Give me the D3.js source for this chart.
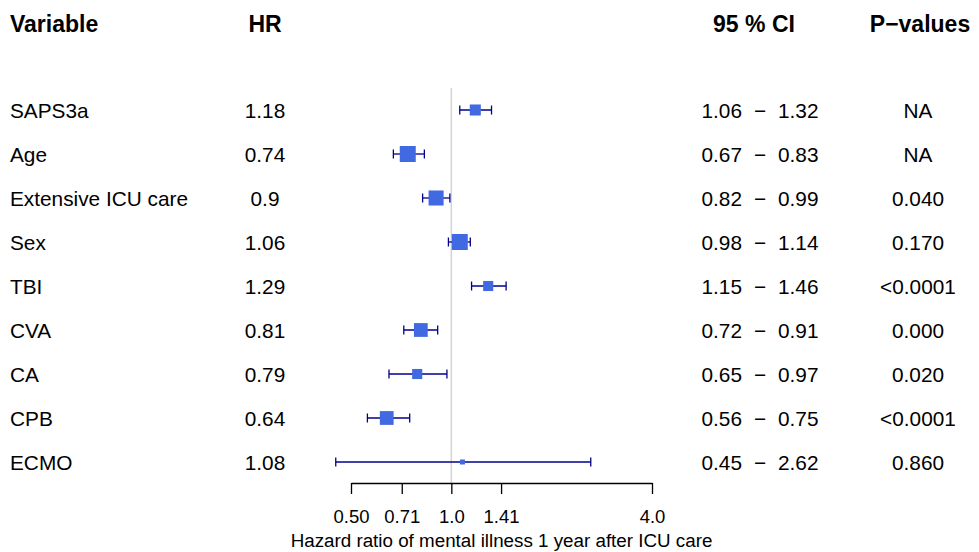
<!DOCTYPE html>
<html lang="en">
<head>
  <meta charset="UTF-8" />
  <title>Forest plot</title>
  <script src="https://d3js.org/d3.v7.min.js"></script>
  <style>
    body {
      margin: 0;
      background: #fff;
      font-family: "Liberation Sans", Arial, sans-serif;
    }
    svg {
      display: block;
    }
    .row-text {
      font-size: 20.8px;
      fill: #000;
    }
    .header {
      font-size: 23px;
      font-weight: bold;
    }
  </style>
</head>
<body>
  <svg id="chart" width="979" height="552"></svg>

  <script>
    // data
    const variables = ["SAPS3a", "Age", "Extensive ICU care", "Sex", "TBI", "CVA", "CA", "CPB", "ECMO"];
    const hr = [1.18, 0.74, 0.9, 1.06, 1.29, 0.81, 0.79, 0.64, 1.08];
    const ciLower = [1.06, 0.67, 0.82, 0.98, 1.15, 0.72, 0.65, 0.56, 0.45];
    const ciUpper = [1.32, 0.83, 0.99, 1.14, 1.46, 0.91, 0.97, 0.75, 2.62];
    const pValues = ["NA", "NA", "0.040", "0.170", "<0.0001", "0.000", "0.020", "<0.0001", "0.860"];
    const boxWeight = [0.69, 1.0, 0.94, 1.0, 0.63, 0.86, 0.63, 0.86, 0.31];
    const hrLabels = ["1.18", "0.74", "0.9", "1.06", "1.29", "0.81", "0.79", "0.64", "1.08"];
    const ciLabelsLow = ["1.06", "0.67", "0.82", "0.98", "1.15", "0.72", "0.65", "0.56", "0.45"];
    const ciLabelsHigh = ["1.32", "0.83", "0.99", "1.14", "1.46", "0.91", "0.97", "0.75", "2.62"];
    const tickValues = [0.5, 0.71, 1.0, 1.41, 4.0];
    const tickLabels = ["0.50", "0.71", "1.0", "1.41", "4.0"];
    const headers = ["Variable", "HR", "95 % CI", "P\u2212values"];
    const xTitle = "Hazard ratio of mental illness 1 year after ICU care";

    const rows = variables.map((v, i) => ({
      name: v, hr: hr[i], lo: ciLower[i], hi: ciUpper[i], p: pValues[i],
      w: boxWeight[i], hrLabel: hrLabels[i], loLabel: ciLabelsLow[i], hiLabel: ciLabelsHigh[i]
    }));

    const svg = d3.select("#chart");

    const x = d3.scaleLog().base(2).domain([0.5, 4]).range([351, 652]);
    const y = d3.scalePoint().domain(variables).range([110, 462]);
    const boxSize = d3.scaleLinear().domain([0, 1]).range([0, 16]);

    const axisY = 483;
    const colHR = 265, colLo = 742, colDash = 760, colHi = 778, colP = 918;

    // headers
    const headerX = [10, colHR, 754, 920];
    const headerAnchor = ["start", "middle", "middle", "middle"];
    svg.selectAll(".header")
      .data(headers)
      .join("text")
      .attr("class", "header")
      .attr("x", (d, i) => headerX[i])
      .attr("y", 32)
      .attr("text-anchor", (d, i) => headerAnchor[i])
      .text(d => d);

    // reference line at HR = 1
    svg.append("line")
      .attr("x1", x(1)).attr("x2", x(1))
      .attr("y1", 88).attr("y2", axisY)
      .attr("stroke", "#d3d3d3")
      .attr("stroke-width", 1.5);

    // table text
    const textRow = svg.append("g")
      .selectAll("g")
      .data(rows)
      .join("g")
      .attr("class", "row-text")
      .attr("transform", d => `translate(0,${y(d.name)})`);

    textRow.append("text").attr("x", 10).attr("dy", "0.36em").text(d => d.name);
    textRow.append("text").attr("x", colHR).attr("dy", "0.36em").attr("text-anchor", "middle").text(d => d.hrLabel);
    textRow.append("text").attr("x", colLo).attr("dy", "0.36em").attr("text-anchor", "end").text(d => d.loLabel);
    textRow.append("text").attr("x", colDash).attr("dy", "0.36em").attr("text-anchor", "middle").text("\u2212");
    textRow.append("text").attr("x", colHi).attr("dy", "0.36em").attr("text-anchor", "start").text(d => d.hiLabel);
    textRow.append("text").attr("x", colP).attr("dy", "0.36em").attr("text-anchor", "middle").text(d => d.p);

    // whiskers
    const marks = svg.append("g")
      .selectAll("g")
      .data(rows)
      .join("g")
      .attr("transform", d => `translate(0,${y(d.name)})`);

    marks.append("line")
      .attr("x1", d => x(d.lo)).attr("x2", d => x(d.hi))
      .attr("stroke", "#00008b").attr("stroke-width", 1.3);
    marks.append("line")
      .attr("x1", d => x(d.lo)).attr("x2", d => x(d.lo))
      .attr("y1", -4.5).attr("y2", 4.5)
      .attr("stroke", "#00008b").attr("stroke-width", 1.3);
    marks.append("line")
      .attr("x1", d => x(d.hi)).attr("x2", d => x(d.hi))
      .attr("y1", -4.5).attr("y2", 4.5)
      .attr("stroke", "#00008b").attr("stroke-width", 1.3);

    marks.append("rect")
      .attr("x", d => x(d.hr) - boxSize(d.w) / 2)
      .attr("y", d => -boxSize(d.w) / 2)
      .attr("width", d => boxSize(d.w))
      .attr("height", d => boxSize(d.w))
      .attr("fill", "#4169e1");

    // x axis
    const axis = d3.axisBottom(x)
      .tickValues(tickValues)
      .tickFormat((d, i) => tickLabels[i])
      .tickSize(11)
      .tickPadding(16)
      .tickSizeOuter(0);

    const gAxis = svg.append("g")
      .attr("transform", `translate(0,${axisY})`)
      .call(axis);
    gAxis.select(".domain").attr("stroke", "#000").attr("stroke-width", 1.3);
    gAxis.selectAll(".tick line").attr("stroke", "#000").attr("stroke-width", 1.3);
    gAxis.selectAll(".tick text")
      .attr("fill", "#000")
      .style("font-size", "18.5px")
      .style("font-family", "'Liberation Sans', Arial, sans-serif");

    svg.append("text")
      .attr("x", (x.range()[0] + x.range()[1]) / 2)
      .attr("y", 547)
      .attr("text-anchor", "middle")
      .style("font-size", "18.8px")
      .text(xTitle);
  </script>
</body>
</html>
